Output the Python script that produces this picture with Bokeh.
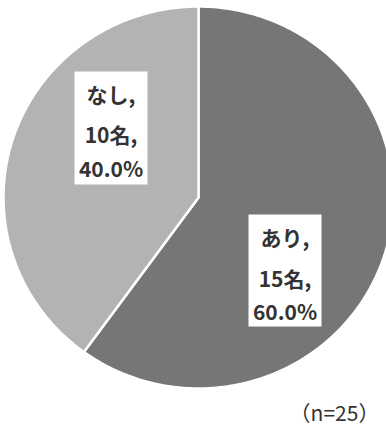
import numpy as np
from bokeh.plotting import figure
from bokeh.models import Range1d, ColumnDataSource
from bokeh.core.properties import value
from bokeh.embed import file_html
from bokeh.resources import INLINE

# ---- data ----
categories = ["あり", "なし"]
counts = [15, 10]
colors = ["#767676", "#b3b3b3"]
n_label = "（n=25）"

total = sum(counts)
pcts = [c / total * 100 for c in counts]

W, H = 386, 426
p = figure(width=W, height=H, output_backend="svg", toolbar_location=None,
           x_range=Range1d(0, W), y_range=Range1d(H, 0), min_border=0)
p.axis.visible = False
p.grid.visible = False
p.outline_line_color = None
p.background_fill_color = "white"
p.border_fill_color = "white"

# pie geometry (layout)
cx, cy, rx, ry = 198, 197, 195, 191

# slices clockwise starting at 12 o'clock
xs, ys = [], []
start = np.pi / 2
for c in counts:
    span = 2 * np.pi * c / total
    t = np.linspace(start, start - span, 200)
    xs.append(list(np.concatenate([[cx], cx + rx * np.cos(t), [cx]])))
    ys.append(list(np.concatenate([[cy], cy - ry * np.sin(t), [cy]])))
    start -= span

p.patches(xs=xs, ys=ys, fill_color=colors, line_color="white", line_width=2.5,
          line_join="miter")

# label boxes (layout)
boxes = {"あり": (248, 321, 214, 326, 284.5, [236, 277, 310]),
         "なし": (74, 147, 71, 184, 110.5, [93, 133, 167])}

for cat, cnt, pct in zip(categories, counts, pcts):
    l, r, t, b, xc, ly = boxes[cat]
    p.quad(left=[l], right=[r], top=[t], bottom=[b], fill_color="white", line_color=None)
    lines = [f"{cat},", f"{cnt}名,", f"{pct:.1f}%"]
    src = ColumnDataSource(dict(x=[xc] * 3, y=ly, t=lines))
    p.text(x="x", y="y", text="t", source=src, text_align="center",
           text_baseline="middle", text_font=value("Noto Sans CJK JP"),
           text_font_size="21px", text_font_style="bold", text_color="#333333")

p.text(x=[334], y=[411], text=[n_label], text_align="center", text_baseline="middle",
       text_font=value("Noto Sans CJK JP"), text_font_size="21px", text_color="#333333")

open("out.html", "w").write(file_html(p, INLINE))
